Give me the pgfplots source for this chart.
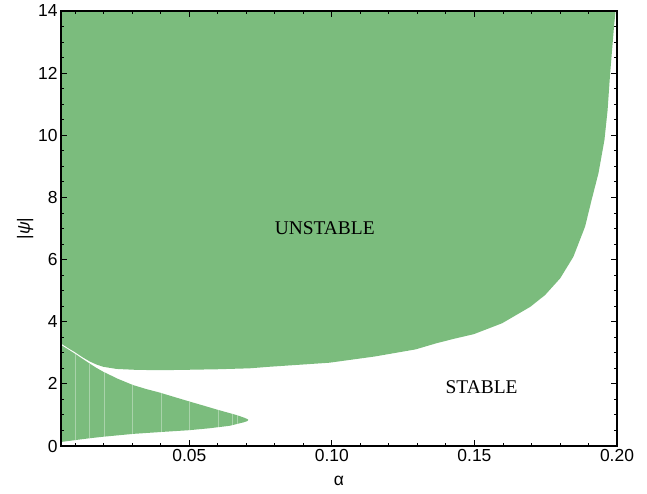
\documentclass[border=0pt]{standalone}
\usepackage{pgfplots}
\pgfplotsset{compat=1.18}
\usepackage{fontspec}
\setmainfont{Liberation Sans}
\newfontfamily\timesfont{Liberation Serif}
\usetikzlibrary{calc}
\definecolor{regiongreen}{RGB}{123,188,125}
\begin{document}
\begin{tikzpicture}
\begin{axis}[
  name=ax,
  scale only axis, width=556bp, height=435bp,
  xmin=0.005, xmax=0.2, ymin=0, ymax=14,
  xtick={0.05,0.1,0.15,0.2},
  minor xtick={0.01,0.02,0.03,0.04,0.06,0.07,0.08,0.09,0.11,0.12,0.13,0.14,0.16,0.17,0.18,0.19},
  ytick={0,2,4,6,8,10,12,14},
  minor ytick={0.5,1,1.5,2.5,3,3.5,4.5,5,5.5,6.5,7,7.5,8.5,9,9.5,10.5,11,11.5,12.5,13,13.5},
  xticklabel style={/pgf/number format/.cd, fixed, fixed zerofill, precision=2},
  /pgf/number format/assume math mode=true,
  tick label style={font=\fontsize{17.5}{20}\selectfont},
  label style={font=\fontsize{17.5}{20}\selectfont},
  xlabel style={yshift=-7bp},
  ylabel style={yshift=-2bp},
  tick align=inside,
  major tick length=6bp, minor tick length=3bp,
  axis line style={line width=1.1bp, black},
  every tick/.style={line width=0.9bp, black},
  xlabel={α}, ylabel={|\textit{ψ}|},
  axis on top,
]
% upper unstable region
\addplot[fill=regiongreen, draw=none] coordinates {
(0.005,14) (0.005,3.30) (0.0075,3.15) (0.0099,3.02) (0.0125,2.86) (0.0151,2.72)
(0.0175,2.62) (0.0198,2.55) (0.0245,2.48) (0.0315,2.45) (0.04,2.44) (0.0477,2.45)
(0.06,2.47) (0.0711,2.50) (0.0781,2.55) (0.0991,2.68) (0.115,2.88) (0.1294,3.11)
(0.1364,3.30) (0.1428,3.45) (0.1498,3.60) (0.1597,3.95) (0.1696,4.48) (0.1748,4.86)
(0.1801,5.40) (0.1847,6.09) (0.1888,7.06) (0.1911,7.92) (0.1935,8.78) (0.1956,9.85)
(0.1967,10.81) (0.1976,12.0) (0.199,13.55) (0.1995,14) (0.2,14)
} -- cycle;
% lower lobe
\addplot[fill=regiongreen, draw=none] coordinates {
(0.005,3.25) (0.0075,3.11) (0.0099,2.97) (0.0125,2.81) (0.0151,2.65) (0.0175,2.51)
(0.0198,2.39) (0.025,2.16) (0.0303,1.96) (0.035,1.83) (0.0396,1.72) (0.045,1.57)
(0.0501,1.43) (0.055,1.30) (0.0594,1.18) (0.0664,1.0) (0.069,0.92) (0.0703,0.87)
(0.0707,0.84) (0.0703,0.80) (0.069,0.76) (0.0641,0.65) (0.057,0.57) (0.0501,0.51)
(0.04,0.45) (0.0303,0.39) (0.02,0.30) (0.0151,0.25) (0.01,0.19) (0.005,0.13)
} -- cycle;
% faint mesh lines in lobe
\addplot[white, opacity=0.35, line width=0.5bp] coordinates {(0.01,0.19) (0.01,2.96)};
\addplot[white, opacity=0.35, line width=0.5bp] coordinates {(0.015,0.25) (0.015,2.65)};
\addplot[white, opacity=0.35, line width=0.5bp] coordinates {(0.02,0.30) (0.02,2.38)};
\addplot[white, opacity=0.35, line width=0.5bp] coordinates {(0.03,0.39) (0.03,1.97)};
\addplot[white, opacity=0.35, line width=0.5bp] coordinates {(0.04,0.45) (0.04,1.71)};
\addplot[white, opacity=0.35, line width=0.5bp] coordinates {(0.05,0.51) (0.05,1.43)};
\addplot[white, opacity=0.35, line width=0.5bp] coordinates {(0.06,0.58) (0.06,1.17)};
\addplot[white, opacity=0.35, line width=0.5bp] coordinates {(0.065,0.63) (0.065,1.03)};
\addplot[white, opacity=0.35, line width=0.5bp] coordinates {(0.0667,0.66) (0.0667,0.99)};
\node[font=\timesfont\fontsize{19.5}{22}\selectfont] at (axis cs:0.0975,7.0) {UNSTABLE};
\node[font=\timesfont\fontsize{19.5}{22}\selectfont] at (axis cs:0.1525,1.9) {STABLE};
\end{axis}
\pgfresetboundingbox
\path[use as bounding box] ($(ax.south west)+(-61bp,-48bp)$) rectangle ($(ax.north east)+(30bp,11bp)$);
\end{tikzpicture}
\end{document}
